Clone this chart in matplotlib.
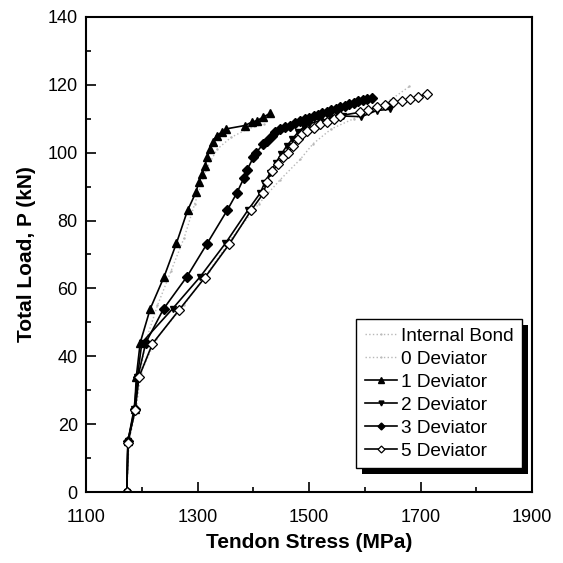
import matplotlib
matplotlib.use('Agg')
import matplotlib.pyplot as plt
from matplotlib.patches import Rectangle

plt.rcParams['font.family'] = ['Liberation Sans', 'DejaVu Sans']

# tendon stress (MPa) vs total load (kN)
ib_x = [1173, 1176, 1190, 1197, 1208, 1228, 1252, 1276, 1295, 1315, 1335, 1360, 1390, 1420]
ib_y = [0, 15, 25, 35, 45, 55, 65, 75, 85, 95, 101, 104.5, 107, 108.5]

d0_x = [1173, 1177, 1190, 1198, 1225, 1275, 1320, 1362, 1410, 1448, 1484, 1507, 1540, 1580, 1620, 1650, 1680]
d0_y = [0, 15, 25, 35, 45, 55, 65, 75, 85, 92, 98, 102.6, 107, 110, 113, 116, 119.5]

d1_x = [1173, 1175, 1187, 1190, 1197, 1215, 1240, 1262, 1282, 1297, 1302, 1308, 1313, 1317, 1322,
        1327, 1334, 1343, 1351, 1385, 1397, 1406, 1417, 1430]
d1_y = [0, 15, 24.5, 34, 44, 54, 63.5, 73.3, 83, 88.3, 91.3, 93.7, 96, 98.6, 101,
        103, 105, 106, 107, 108, 109, 109.4, 110.4, 111.6]

d2_x = [1173, 1175, 1186, 1192, 1200, 1255, 1305, 1350, 1390, 1412, 1420, 1430, 1440, 1450, 1460,
        1470, 1480, 1490, 1500, 1520, 1540, 1560, 1594, 1621, 1645]
d2_y = [0, 15, 24.5, 34, 44, 54, 63.5, 73.3, 83, 88, 91, 94, 97, 99.5, 102,
        104, 106, 107.5, 108.5, 109.4, 110.2, 110.8, 110.6, 112.4, 112.8]

d3_x = [1173, 1175, 1188, 1193, 1207, 1239, 1281, 1317, 1353, 1370, 1383, 1389, 1400, 1405, 1418,
        1424, 1433, 1439, 1448, 1456, 1466, 1475, 1484, 1492, 1500, 1508, 1516, 1524, 1532, 1540,
        1548, 1556, 1564, 1572, 1580, 1588, 1596, 1604, 1612]
d3_y = [0, 15, 24.5, 34, 44, 54, 63.5, 73.2, 83, 88, 92.5, 95, 98.6, 100, 102.6,
        103.5, 105, 106, 107, 107.5, 108, 108.7, 109.3, 109.8, 110.2, 110.7, 111.1, 111.6, 112, 112.5,
        113, 113.4, 113.8, 114.3, 114.7, 115.1, 115.5, 115.9, 116.2]

d5_x = [1173, 1175, 1188, 1195, 1219, 1267, 1313, 1357, 1396, 1418, 1424, 1433, 1445, 1454, 1463,
        1472, 1481, 1487, 1496, 1508, 1520, 1532, 1544, 1556, 1591, 1606, 1621, 1636, 1651, 1666,
        1681, 1696, 1711]
d5_y = [0, 14.6, 24.3, 34, 43.7, 53.7, 63.2, 73.1, 83, 88, 91.5, 94.5, 96.6, 98.6, 100,
        102, 104, 105.5, 106.5, 107.4, 108.4, 108.9, 109.9, 110.9, 111.9, 112.6, 113.4, 114.1, 114.8, 115.3,
        115.8, 116.5, 117.4]

x_major = [1100, 1300, 1500, 1700, 1900]
x_minor = [1200, 1400, 1600, 1800]
y_major = [0, 20, 40, 60, 80, 100, 120, 140]
y_minor = [10, 30, 50, 70, 90, 110, 130]

fig = plt.figure(figsize=(5.63, 5.63), dpi=100)
ax = fig.add_axes([0.153, 0.126, 0.792, 0.844])

grey = '#b8b8b8'
ax.plot(ib_x, ib_y, ls=':', color=grey, lw=1.0, marker='.', ms=1.5, label='Internal Bond')
ax.plot(d0_x, d0_y, ls=':', color=grey, lw=1.0, marker='.', ms=1.5, label='0 Deviator')
ax.plot(d2_x, d2_y, '-', color='k', lw=1.2, marker='v', ms=5, label='2 Deviator')
ax.plot(d3_x, d3_y, '-', color='k', lw=1.2, marker='D', ms=5, label='3 Deviator')
ax.plot(d1_x, d1_y, '-', color='k', lw=1.2, marker='^', ms=5.5, label='1 Deviator')
ax.plot(d5_x, d5_y, '-', color='k', lw=1.2, marker='D', ms=5, mfc='white', mec='k', mew=0.9,
        label='5 Deviator')

ax.set_xlim(1100, 1900)
ax.set_ylim(0, 140)
ax.set_xticks(x_major)
ax.set_xticks(x_minor, minor=True)
ax.set_yticks(y_major)
ax.set_yticks(y_minor, minor=True)
ax.tick_params(which='both', direction='in', labelsize=13, width=1.2)
ax.tick_params(which='major', length=7)
ax.tick_params(which='minor', length=3.5)
ax.tick_params(axis='x', pad=12)
ax.tick_params(axis='y', pad=6)
for s in ax.spines.values():
    s.set_linewidth(1.5)

ax.set_xlabel('Tendon Stress (MPa)', fontsize=15, fontweight='bold', labelpad=5)
ax.set_ylabel('Total Load, P (kN)', fontsize=15, fontweight='bold', labelpad=8)

# legend order as in the figure
h, l = ax.get_legend_handles_labels()
order = ['Internal Bond', '0 Deviator', '1 Deviator', '2 Deviator', '3 Deviator', '5 Deviator']
hh = [h[l.index(o)] for o in order]
leg = ax.legend(hh, order, loc='lower right', bbox_to_anchor=(0.978, 0.05), borderaxespad=0,
                fontsize=13.7, frameon=True, fancybox=False, edgecolor='k', framealpha=1,
                handlelength=1.7, handletextpad=0.2, labelspacing=0.3, borderpad=0.45,
                markerscale=0.7)
leg.get_frame().set_linewidth(1.0)

# solid black drop shadow behind the legend box
fig.canvas.draw()
bb = leg.get_window_extent()
ax.add_patch(Rectangle((bb.x0 + 6, bb.y0 - 6), bb.width, bb.height, transform=None,
                       facecolor='k', edgecolor='none', clip_on=False, zorder=4.9))

plt.savefig('out.png', dpi=100)
